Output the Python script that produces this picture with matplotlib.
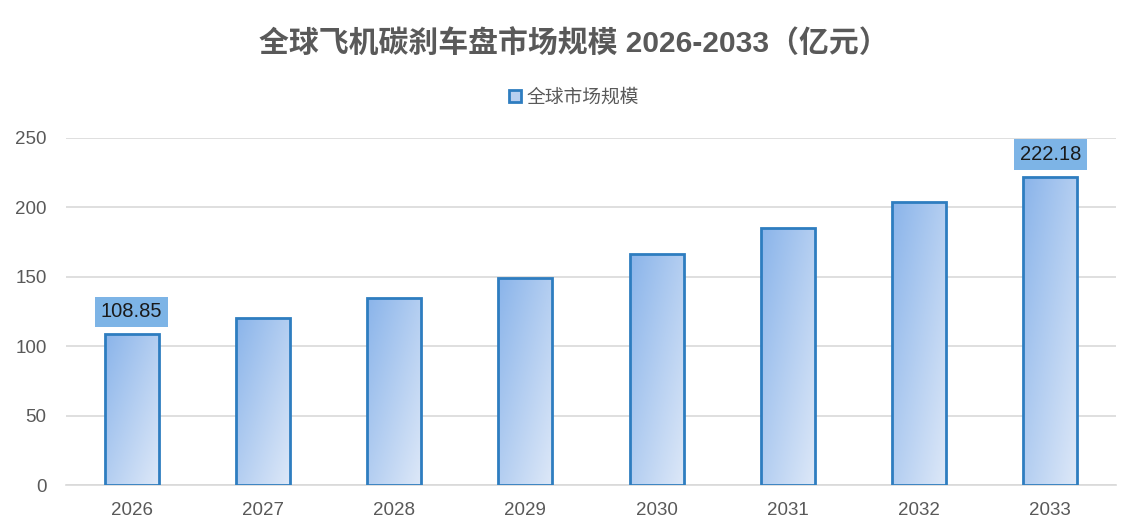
import numpy as np
import matplotlib.pyplot as plt
from matplotlib.colors import LinearSegmentedColormap
from matplotlib.patches import Patch

plt.rcParams['font.family'] = ['Liberation Sans', 'Noto Sans CJK SC', 'DejaVu Sans']

# 数据
years = ['2026', '2027', '2028', '2029', '2030', '2031', '2032', '2033']
values = [108.85, 120.3, 134.7, 149.1, 166.4, 185.2, 203.9, 222.18]
labeled = [0, 7]

edge = '#2e7dc0'
grad = LinearSegmentedColormap.from_list('g', ['#8ab4ea', '#dde8f8'])

fig = plt.figure(figsize=(11.39, 5.32), dpi=100)
ax = fig.add_axes([66 / 1139, (532 - 485) / 532, 1050 / 1139, 347 / 532])

x = np.arange(len(years))
bars = ax.bar(x, values, width=0.41, facecolor='none', edgecolor=edge,
              linewidth=2, zorder=3)

# 渐变填充 (左上深, 右下浅)
yy, xx = np.mgrid[0:1:100j, 0:1:100j]
g = (xx + yy) / 2
for b in bars:
    x0, y0 = b.get_x(), b.get_y()
    w, h = b.get_width(), b.get_height()
    im = ax.imshow(g, cmap=grad, extent=[x0, x0 + w, y0, y0 + h],
                   origin='upper', aspect='auto', zorder=2)
    im.set_clip_path(b)

for i in labeled:
    ax.text(x[i], values[i] + 16, f'{values[i]:.2f}', ha='center', va='center',
            fontsize=14.5, color='#1a1a1a',
            bbox=dict(boxstyle='square,pad=0.28', fc='#7db4e6', ec='none'), zorder=4)

ax.set_xlim(-0.5, len(years) - 0.5)
ax.set_ylim(0, 250)
ax.set_yticks(range(0, 251, 50))
ax.set_xticks(x)
ax.set_xticklabels(years)
ax.tick_params(axis='both', length=0, labelsize=13.5, colors='#595959')
ax.tick_params(axis='x', pad=12)
ax.tick_params(axis='y', pad=14)
ax.grid(axis='y', color='#d9d9d9', linewidth=1.2, zorder=0)
for s in ['top', 'right', 'left']:
    ax.spines[s].set_visible(False)
ax.spines['bottom'].set_color('#d9d9d9')
ax.spines['bottom'].set_linewidth(1.2)

fig.text(574 / 1139, 1 - 44 / 532, '全球飞机碳刹车盘市场规模 2026-2033（亿元）', ha='center',
         va='center', fontsize=21.5, fontweight='bold', color='#595959')

handle = Patch(facecolor='#b8cff0', edgecolor=edge, linewidth=2)
fig.legend([handle], ['全球市场规模'], loc='center', bbox_to_anchor=(574 / 1139, 1 - 98 / 532),
           frameon=False, fontsize=13.5, handlelength=0.6, handleheight=0.6,
           handletextpad=0.3, labelcolor='#595959')

fig.savefig('out.png', dpi=100)
